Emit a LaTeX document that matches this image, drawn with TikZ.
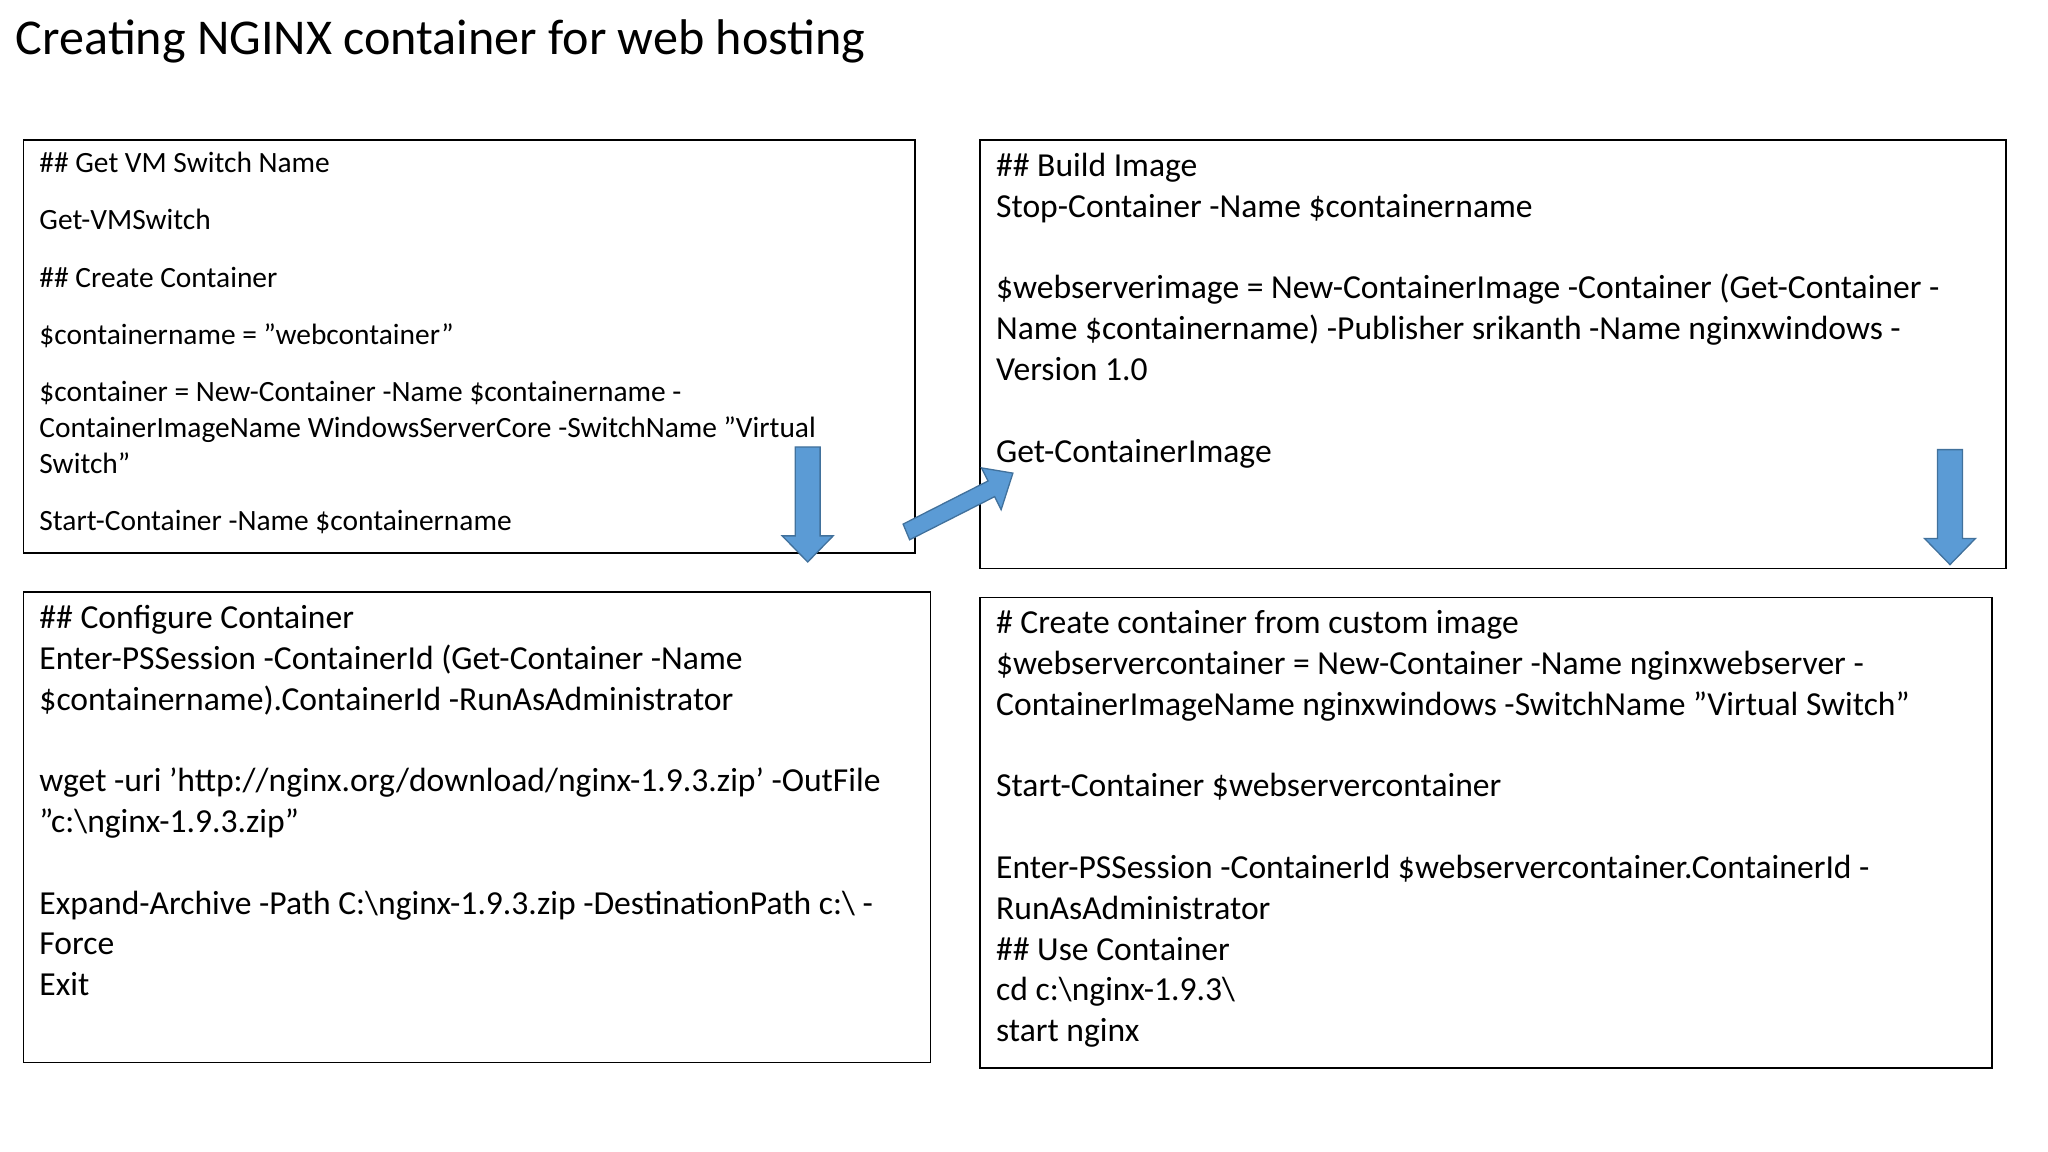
\documentclass[tikz,border=0pt]{standalone}
\usepackage{fontspec}
\setmainfont{Carlito}
\usetikzlibrary{positioning}
\definecolor{arrowfill}{HTML}{5B9BD5}
\definecolor{arrowline}{HTML}{41719C}
\tikzset{
	codebox/.style = {draw=black, line width=1.2bp},
	codetext/.style = {anchor=north west, inner sep=0pt, align=left, font=\fontsize{25.8}{31.3}\selectfont},
	blockarrow/.style = {fill=arrowfill, draw=arrowline, line width=1bp}
}
\newcommand{\dq}{\char34{}}
\newcommand{\sq}{\char39{}}
\newcommand{\downarrowat}[2]{% x, top y
	\draw[blockarrow] (#1-9.5,#2) -- (#1+9.5,#2) -- (#1+9.5,#2+68) -- (#1+19.5,#2+68)
		-- (#1,#2+88) -- (#1-19.5,#2+68) -- (#1-9.5,#2+68) -- cycle;}

\begin{document}
\begin{tikzpicture}[x=1bp, y=-1bp]
	\useasboundingbox (0,0) rectangle (1567,881);
	\node[anchor=west, inner sep=0pt, font=\fontsize{38.5}{42}\selectfont] (title) at (12,32) {Creating NGINX container for web hosting};

	% boxes
	\draw[codebox] (18,107) rectangle (700,423);
	\draw[codebox] (750,107) rectangle (1535,435);
	\draw[codebox] (18,453) rectangle (712,813);
	\draw[codebox] (750,457) rectangle (1524,817);

	\node[codetext, font=\fontsize{22.6}{27.5}\selectfont] (getswitch) at (30,116) {%
		\#\# Get VM Switch Name\\[16.5bp]
		Get-VMSwitch\\[16.5bp]
		\#\# Create Container\\[16.5bp]
		\$containername = \dq webcontainer\dq\\[16.5bp]
		\$container = New-Container -Name \$containername -\\
		ContainerImageName WindowsServerCore -SwitchName \dq Virtual\\
		Switch\dq\\[16.5bp]
		Start-Container -Name \$containername};

	\node[codetext] (buildimage) at (762,117) {%
		\#\# Build Image\\
		Stop-Container -Name \$containername\\[31.3bp]
		\$webserverimage = New-ContainerImage -Container (Get-Container -\\
		Name \$containername) -Publisher srikanth -Name nginxwindows -\\
		Version 1.0\\[31.3bp]
		Get-ContainerImage};

	\node[codetext] (configure) at (30,463) {%
		\#\# Configure Container\\
		Enter-PSSession -ContainerId (Get-Container -Name\\
		\$containername).ContainerId -RunAsAdministrator\\[31.3bp]
		wget -uri \sq http://nginx.org/download/nginx-1.9.3.zip\sq{} -OutFile\\
		\dq c:\textbackslash nginx-1.9.3.zip\dq\\[31.3bp]
		Expand-Archive -Path C:\textbackslash nginx-1.9.3.zip -DestinationPath c:\textbackslash{} -\\
		Force\\
		Exit};

	\node[codetext] (customimage) at (762,467) {%
		\# Create container from custom image\\
		\$webservercontainer = New-Container -Name nginxwebserver -\\
		ContainerImageName nginxwindows -SwitchName \dq Virtual Switch\dq\\[31.3bp]
		Start-Container \$webservercontainer\\[31.3bp]
		Enter-PSSession -ContainerId \$webservercontainer.ContainerId -\\
		RunAsAdministrator\\
		\#\# Use Container\\
		cd c:\textbackslash nginx-1.9.3\textbackslash\\
		start nginx};

	% arrows
	\downarrowat{618}{342}
	\downarrowat{1492}{344}
	\draw[blockarrow] (691,401) -- (756,368) -- (751,358) -- (775,362) -- (766,390)
		-- (761,380) -- (696,413) -- cycle;
\end{tikzpicture}
\end{document}
